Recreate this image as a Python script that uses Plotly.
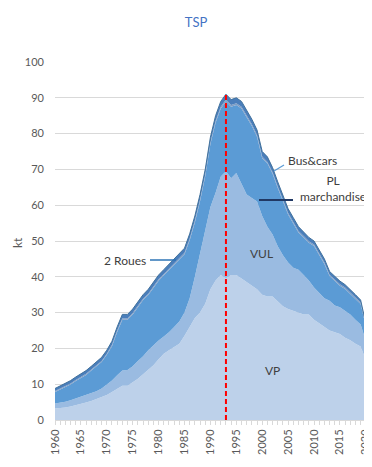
import plotly.graph_objects as go

years = list(range(1960, 2022))

vp = [3.2, 3.3, 3.5, 3.8, 4.1, 4.5, 4.9, 5.3, 5.8, 6.3,
      7.0, 7.8, 8.8, 9.6, 9.6, 10.5, 11.5, 12.8, 14.0, 15.3,
      17.0, 18.5, 19.5, 20.5, 21.3, 23.5, 26.0, 28.5, 30.0, 32.5,
      36.5, 39.0, 40.5, 39.5, 40.5, 40.5, 39.5, 38.5, 37.5, 36.5,
      35.0, 34.5, 34.5, 33.0, 31.8, 31.0, 30.5, 29.8, 29.5, 29.5,
      28.0, 27.0, 26.0, 25.0, 24.5, 24.0, 23.0, 22.3, 21.3, 20.5,
      16.8, 18.2]

vul = [1.4, 1.5, 1.6, 1.7, 1.9, 2.0, 2.1, 2.2, 2.2, 2.5,
       2.8, 3.2, 3.7, 4.2, 4.4, 4.5, 5.0, 5.0, 5.5, 5.7,
       5.2, 4.8, 5.0, 5.5, 6.2, 6.5, 8.0, 11.5, 16.5, 21.0,
       23.0, 24.5, 27.5, 30.0, 27.0, 28.5, 26.5, 24.5, 24.5, 24.5,
       22.0, 19.5, 17.3, 15.5, 14.2, 13.0, 12.0, 12.2, 11.0, 9.5,
       9.0, 8.5, 8.0, 8.3, 7.5, 7.5, 7.5, 7.2, 6.7, 6.2,
       5.2, 5.6]

pl_marchandise = [3.2, 3.7, 4.2, 4.4, 4.9, 5.2, 5.6, 6.3, 7.0, 7.4,
                  8.4, 9.6, 12.1, 14.2, 14.0, 14.5, 15.0, 15.7, 15.4, 15.9,
                  16.7, 17.1, 17.4, 17.4, 17.3, 16.3, 16.2, 15.2, 14.6, 14.6,
                  17.6, 19.5, 19.0, 19.5, 20.0, 19.0, 21.0, 21.5, 20.1, 18.1,
                  16.1, 17.7, 17.0, 16.3, 14.8, 13.4, 12.4, 10.4, 10.5, 10.5,
                  11.6, 10.6, 9.6, 6.9, 6.7, 6.0, 6.1, 5.8, 5.8, 5.7,
                  4.2, 4.6]

deux_roues = [0.3] * 11 + [0.4] * 15 + [0.5] * 15 + [0.4] * 19 + [0.3, 0.3]

bus_cars = [0.7, 0.7, 0.7, 0.8, 0.8, 0.8, 0.9, 0.9, 0.9, 1.0,
            1.0, 1.0, 1.0, 1.1, 1.1, 1.1, 1.1, 1.1, 1.2, 1.2,
            1.2, 1.2, 1.2, 1.2, 1.3, 1.3, 1.3, 1.3, 1.4, 1.4,
            1.4, 1.5, 1.5, 1.5, 1.5, 1.5, 1.5, 1.5, 1.4, 1.4,
            1.4, 1.4, 1.3, 1.3, 1.3, 1.2, 1.2, 1.2, 1.1, 1.1,
            1.0, 1.0, 1.0, 0.9, 0.9, 0.9, 0.8, 0.8, 0.8, 0.7,
            0.5, 0.6]

event_year = 1993
event_top = 91.5

FONT = "Lato"
TXT = "#404040"

# The page body has an 8px default margin: the figure is sized/offset to compensate.
OFF = 8
W, H = 372 - OFF, 467 - OFF
PL_LEFT, PL_RIGHT, PL_TOP, PL_BOTTOM = 55, 371, 62, 420  # page pixels of the plot area

fig = go.Figure()
series = [
    ("VP", vp, "#BDD1EA", 0, "#BDD1EA"),
    ("VUL", vul, "#9ABBE1", 0, "#9ABBE1"),
    ("PL marchandise", pl_marchandise, "#5B9BD5", 0, "#5B9BD5"),
    ("2 Roues", deux_roues, "#7F9DC3", 0, "#7F9DC3"),
    ("Bus&cars", bus_cars, "#4A7EBB", 1, "#41719C"),
]
for name, vals, col, lw, lc in series:
    fig.add_trace(go.Scatter(
        x=years, y=vals, name=name, stackgroup="one", mode="lines",
        fillcolor=col, line=dict(width=lw, color=lc), showlegend=False))

fig.add_trace(go.Scatter(
    x=[event_year, event_year], y=[0, event_top], mode="lines",
    line=dict(color="#FF0000", width=2, dash="5px,3px"), showlegend=False))

def px(xp):
    return 1960 + (xp - PL_LEFT) / (PL_RIGHT - PL_LEFT) * 61

def py(yp):
    return (PL_BOTTOM - yp) / (PL_BOTTOM - PL_TOP) * 100

shapes = [
    dict(type="line", xref="x", yref="y", x0=px(150), x1=px(176), y0=py(260), y1=py(260),
         line=dict(color="#2E75B6", width=1.5)),
    dict(type="line", xref="x", yref="y", x0=px(274), x1=px(284), y0=py(171), y1=py(165),
         line=dict(color="#5B9BD5", width=1.2)),
    dict(type="line", xref="x", yref="y", x0=px(259), x1=px(293), y0=py(200), y1=py(200),
         line=dict(color="#203864", width=2)),
]

annotations = [
    dict(text="2 Roues", x=px(148), y=py(260), xref="x", yref="y", xanchor="right",
         yanchor="middle", showarrow=False, font=dict(size=12, color=TXT, family=FONT)),
    dict(text="Bus&cars", x=px(286), y=py(160), xref="x", yref="y", xanchor="left",
         yanchor="middle", showarrow=False, font=dict(size=12, color=TXT, family=FONT)),
    dict(text="PL<br>marchandise", x=px(333), y=py(188), xref="x", yref="y", xanchor="center",
         yanchor="middle", showarrow=False, font=dict(size=12, color=TXT, family=FONT)),
    dict(text="VUL", x=px(261), y=py(253), xref="x", yref="y", xanchor="center",
         yanchor="middle", showarrow=False, font=dict(size=12, color=TXT, family=FONT)),
    dict(text="VP", x=px(272), y=py(370), xref="x", yref="y", xanchor="center",
         yanchor="middle", showarrow=False, font=dict(size=12, color=TXT, family=FONT)),
    dict(text="kt", x=(17 - PL_LEFT) / (PL_RIGHT - PL_LEFT),
         y=(PL_BOTTOM - 243) / (PL_BOTTOM - PL_TOP), xref="paper", yref="paper",
         xanchor="center", yanchor="middle", textangle=-90, showarrow=False,
         font=dict(size=12, color="#595959", family=FONT)),
]

fig.update_layout(
    width=W, height=H,
    margin=dict(l=PL_LEFT - OFF, r=372 - PL_RIGHT, t=PL_TOP - OFF, b=467 - PL_BOTTOM, pad=0),
    paper_bgcolor="white", plot_bgcolor="white",
    font=dict(family=FONT, color="#595959", size=11),
    title=dict(text="TSP", x=(196 - OFF) / W, xanchor="center", y=1 - (22 - OFF) / H,
               yanchor="middle", font=dict(size=13, color="#4472C4", family=FONT)),
    shapes=shapes, annotations=annotations,
    xaxis=dict(range=[1960, 2021], tickmode="linear", tick0=1960, dtick=5,
               tickangle=-90, ticks="outside", ticklen=4, tickcolor="#D9D9D9",
               showline=True, linecolor="#D9D9D9", linewidth=1, showgrid=False,
               zeroline=False, automargin=False, tickfont=dict(size=11, color="#595959"),
               minor=dict(dtick=1, tick0=1960, ticks="outside", ticklen=4, tickcolor="#D9D9D9",
                          showgrid=False)),
    yaxis=dict(range=[0, 100], tickmode="linear", tick0=0, dtick=10,
               showgrid=True, gridcolor="#D9D9D9", gridwidth=1, zeroline=False,
               showline=False, ticks="", ticklabelstandoff=10, automargin=False,
               tickfont=dict(size=11, color="#595959")),
)

fig.write_html("out.html")
